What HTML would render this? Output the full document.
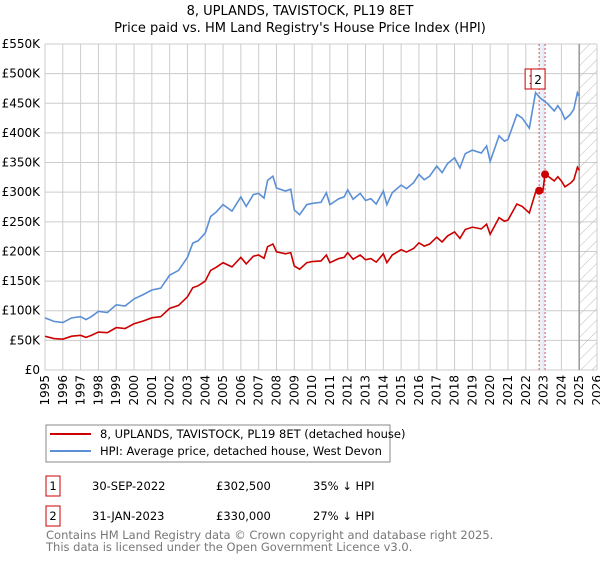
<!DOCTYPE html>
<html><head><meta charset="utf-8"><style>
body{margin:0;background:#fff;font-family:"DejaVu Sans","Liberation Sans",sans-serif;}
svg text{font-family:"DejaVu Sans","Liberation Sans",sans-serif;}
</style></head><body>
<svg id="chart" width="600" height="560" xmlns="http://www.w3.org/2000/svg">
<defs><pattern id="hatch" width="8" height="8" patternUnits="userSpaceOnUse" patternTransform="rotate(45)"><line x1="0" y1="0" x2="0" y2="8" stroke="#bbb" stroke-width="1"/></pattern></defs>
<text x="300" y="15" text-anchor="middle" font-size="13">8, UPLANDS, TAVISTOCK, PL19 8ET</text>
<text x="300" y="32" text-anchor="middle" font-size="13">Price paid vs. HM Land Registry's House Price Index (HPI)</text>
<g id="grid"></g><g id="marks"></g><g id="axes"></g>
<g>
<rect x="46" y="425" width="344" height="37" fill="#fff" stroke="#888"/>
<line x1="50" y1="434" x2="91" y2="434" stroke="#cc0000" stroke-width="2"/>
<text x="100" y="438" font-size="11.5">8, UPLANDS, TAVISTOCK, PL19 8ET (detached house)</text>
<line x1="50" y1="451" x2="91" y2="451" stroke="#5b8fd6" stroke-width="2"/>
<text x="100" y="455" font-size="11.5">HPI: Average price, detached house, West Devon</text>
</g>
<g font-size="11.5">
<rect x="46" y="476" width="14" height="20" fill="none" stroke="#cc0000"/><text x="53" y="490" text-anchor="middle">1</text>
<text x="92" y="490">30-SEP-2022</text><text x="216" y="490">£302,500</text><text x="313" y="490">35% ↓ HPI</text>
<rect x="46" y="506" width="14" height="20" fill="none" stroke="#cc0000"/><text x="53" y="520" text-anchor="middle">2</text>
<text x="92" y="520">31-JAN-2023</text><text x="216" y="520">£330,000</text><text x="313" y="520">27% ↓ HPI</text>
</g>
<text x="46" y="539" font-size="11.5" fill="#777">Contains HM Land Registry data © Crown copyright and database right 2025.</text>
<text x="46" y="551" font-size="11.5" fill="#777">This data is licensed under the Open Government Licence v3.0.</text>
</svg>
<script>
const hpiYears=[1995.0,1995.5,1996.0,1996.5,1997.0,1997.3,1997.6,1998.0,1998.5,1999.0,1999.5,2000.0,2000.5,2001.0,2001.5,2002.0,2002.5,2003.0,2003.3,2003.6,2004.0,2004.3,2004.6,2005.0,2005.5,2006.0,2006.3,2006.7,2007.0,2007.3,2007.5,2007.8,2008.0,2008.5,2008.8,2009.0,2009.3,2009.7,2010.0,2010.5,2010.8,2011.0,2011.5,2011.8,2012.0,2012.3,2012.7,2013.0,2013.3,2013.6,2014.0,2014.2,2014.5,2015.0,2015.3,2015.7,2016.0,2016.3,2016.6,2017.0,2017.3,2017.6,2018.0,2018.3,2018.6,2019.0,2019.5,2019.8,2020.0,2020.5,2020.8,2021.0,2021.5,2021.8,2022.2,2022.55,2022.8,2023.2,2023.6,2023.8,2024.0,2024.2,2024.5,2024.7,2024.9,2025.0];
const hpiValues=[88,82,80,88,90,85,90,99,97,110,108,120,127,135,138,160,168,190,214,218,231,259,266,279,268,292,276,296,298,290,320,327,307,302,305,270,262,279,281,283,299,279,289,292,304,288,298,286,289,280,302,279,299,312,306,316,330,321,327,344,333,348,358,341,365,371,366,378,352,395,386,389,431,425,408,468,459,450,437,446,437,423,431,440,468,462];
const redYears=[1995.0,1995.5,1996.0,1996.5,1997.0,1997.3,1997.6,1998.0,1998.5,1999.0,1999.5,2000.0,2000.5,2001.0,2001.5,2002.0,2002.5,2003.0,2003.3,2003.6,2004.0,2004.3,2004.6,2005.0,2005.5,2006.0,2006.3,2006.7,2007.0,2007.3,2007.5,2007.8,2008.0,2008.5,2008.8,2009.0,2009.3,2009.7,2010.0,2010.5,2010.8,2011.0,2011.5,2011.8,2012.0,2012.3,2012.7,2013.0,2013.3,2013.6,2014.0,2014.2,2014.5,2015.0,2015.3,2015.7,2016.0,2016.3,2016.6,2017.0,2017.3,2017.6,2018.0,2018.3,2018.6,2019.0,2019.5,2019.8,2020.0,2020.5,2020.8,2021.0,2021.5,2021.8,2022.2,2022.55,2022.75,2022.95,2023.08,2023.2,2023.6,2023.8,2024.0,2024.2,2024.5,2024.7,2024.9,2025.0];
const redValues=[57,53,52,57,58.5,55,58.5,64,63,71.5,70,78,82.5,88,90,104,109,123.5,139,142,150,168,173,181,174,190,179,192,194,188.5,208,212.5,199.5,196,198,175.5,170,181,183,184,194,181,188,190,198,187,194,186,188,182,196,181,194,203,199,205,214.5,209,212.5,224,216,226,233,222,237,241,238,246,229,257,251,253,280,276,265,300,302.5,300,330,328,319,326,319,309,315,321,342,337];
const saleYears=[2022.75,2023.083];
const salePrices=[302.5,330];
const saleLabels=["1","2"];
const yTicks=[0,50,100,150,200,250,300,350,400,450,500,550];
const yTickLabels=["£0","£50K","£100K","£150K","£200K","£250K","£300K","£350K","£400K","£450K","£500K","£550K"];
const xTicks=[1995,1996,1997,1998,1999,2000,2001,2002,2003,2004,2005,2006,2007,2008,2009,2010,2011,2012,2013,2014,2015,2016,2017,2018,2019,2020,2021,2022,2023,2024,2025,2026];

const NS="http://www.w3.org/2000/svg";
const L=45,R=597,T=44,B=370;
const x=v=>L+(v-1995)/(2026-1995)*(R-L);
const y=v=>B-v/550*(B-T);
function mk(tag,attrs,parent){const e=document.createElementNS(NS,tag);for(const k in attrs)e.setAttribute(k,attrs[k]);parent.appendChild(e);return e;}
const grid=document.getElementById('grid'),marks=document.getElementById('marks'),axes=document.getElementById('axes');
yTicks.forEach((v,i)=>{
  const g=mk('line',{x1:L,x2:R,y1:y(v),y2:y(v),stroke:'#cccccc'},grid);
  
  
  const t=mk('text',{x:L-5,y:y(v)+4,'text-anchor':'end','font-size':'12'},axes);
  t.textContent=yTickLabels[i];
  
  
});
xTicks.forEach(v=>{
  const g=mk('line',{x1:x(v),x2:x(v),y1:T,y2:B,stroke:'#cccccc'},grid);
  
  
  const t=mk('text',{x:0,y:0,'text-anchor':'end','font-size':'12',transform:`translate(${x(v)+4},${B+5}) rotate(-90)`},axes);
  t.textContent=v;
  
  
});
const h=mk('rect',{x:x(2025),y:T,width:R-x(2025),height:B-T,fill:'url(#hatch)'},grid);


const hl=mk('line',{x1:x(2025),x2:x(2025),y1:T,y2:B,stroke:'#999','stroke-width':1.5},grid);


const sp=mk('rect',{x:x(saleYears[0]),y:T,width:x(saleYears[1])-x(saleYears[0]),height:B-T,fill:'#e6eefa',opacity:0.8},grid);


saleYears.forEach((v,i)=>{
  const l=mk('line',{x1:x(v),x2:x(v),y1:T,y2:B,stroke:'#e05050','stroke-dasharray':'2,2'},grid);
  
  
});
const hp=mk('polyline',{points:hpiYears.map((d,i)=>x(d)+','+y(hpiValues[i])).join(' '),fill:'none',stroke:'#5b8fd6','stroke-width':1.6},marks);


const rp=mk('polyline',{points:redYears.map((d,i)=>x(d)+','+y(redValues[i])).join(' '),fill:'none',stroke:'#cc0000','stroke-width':1.6},marks);


saleYears.forEach((v,i)=>{
  const c=mk('circle',{cx:x(v),cy:y(salePrices[i]),r:4,fill:'#cc0000'},marks);
  
  
  const bx=x(v)-14;
  const r=mk('rect',{x:bx,y:69,width:14,height:20,fill:'#fff',stroke:'#cc0000'},marks);
  
  
  const t=mk('text',{x:bx+7,y:84,'text-anchor':'middle','font-size':'12'},marks);
  t.textContent=saleLabels[i];
  
  
});
</script>
</body></html>
